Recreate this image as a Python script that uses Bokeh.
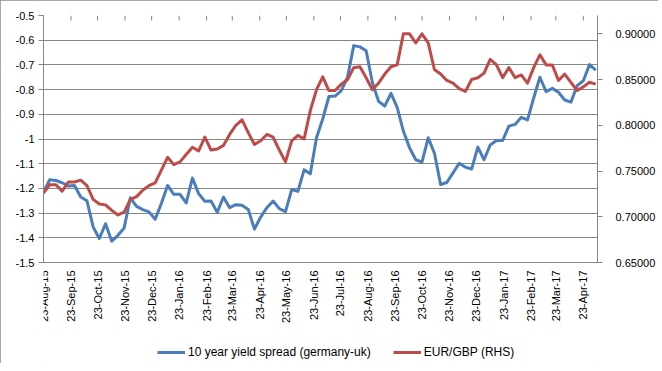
import math
import datetime as dt
from bokeh.plotting import figure
from bokeh.models import (Range1d, LinearAxis, FixedTicker,
                          NumeralTickFormatter, Legend, LegendItem)
from bokeh.core.properties import value
from bokeh.embed import file_html
from bokeh.resources import INLINE

# ---------------- data ----------------
start_date = "2015-08-23"   # weekly observations from this date

spread = [-1.215, -1.165, -1.168, -1.177, -1.190, -1.188, -1.235, -1.250, -1.356, -1.403,
          -1.343, -1.414, -1.390, -1.360, -1.238, -1.273, -1.286, -1.295, -1.325, -1.260,
          -1.188, -1.224, -1.224, -1.259, -1.158, -1.221, -1.252, -1.251, -1.297, -1.235,
          -1.278, -1.266, -1.268, -1.285, -1.365, -1.316, -1.278, -1.251, -1.282, -1.294,
          -1.205, -1.212, -1.125, -1.141, -0.995, -0.919, -0.828, -0.826, -0.804, -0.750,
          -0.622, -0.627, -0.643, -0.771, -0.847, -0.867, -0.815, -0.872, -0.968, -1.036,
          -1.084, -1.094, -0.995, -1.057, -1.184, -1.176, -1.137, -1.098, -1.114, -1.122,
          -1.033, -1.084, -1.024, -1.006, -1.006, -0.948, -0.941, -0.912, -0.923, -0.834,
          -0.750, -0.808, -0.795, -0.811, -0.842, -0.851, -0.784, -0.764, -0.699, -0.721]

eurgbp = [0.726, 0.735, 0.735, 0.728, 0.738, 0.738, 0.740, 0.734, 0.719, 0.714,
          0.713, 0.707, 0.702, 0.705, 0.719, 0.722, 0.729, 0.734, 0.737, 0.751,
          0.765, 0.757, 0.760, 0.768, 0.776, 0.772, 0.787, 0.773, 0.774, 0.778,
          0.790, 0.800, 0.806, 0.792, 0.779, 0.783, 0.790, 0.787, 0.773, 0.760,
          0.783, 0.789, 0.785, 0.816, 0.839, 0.853, 0.838, 0.838, 0.845, 0.850,
          0.863, 0.864, 0.852, 0.839, 0.846, 0.856, 0.864, 0.866, 0.900, 0.900,
          0.890, 0.900, 0.890, 0.861, 0.856, 0.849, 0.846, 0.840, 0.837, 0.850,
          0.852, 0.857, 0.872, 0.866, 0.852, 0.863, 0.852, 0.855, 0.846, 0.863,
          0.877, 0.866, 0.866, 0.849, 0.856, 0.847, 0.838, 0.842, 0.847, 0.845]

month_ticks = ["2015-08-23", "2015-09-23", "2015-10-23", "2015-11-23", "2015-12-23",
               "2016-01-23", "2016-02-23", "2016-03-23", "2016-04-23", "2016-05-23",
               "2016-06-23", "2016-07-23", "2016-08-23", "2016-09-23", "2016-10-23",
               "2016-11-23", "2016-12-23", "2017-01-23", "2017-02-23", "2017-03-23",
               "2017-04-23"]
left_ticks = [-1.5, -1.4, -1.3, -1.2, -1.1, -1.0, -0.9, -0.8, -0.7, -0.6, -0.5]
right_ticks = [0.65, 0.70, 0.75, 0.80, 0.85, 0.90]
left_lim = (-1.5, -0.5)
right_lim = (0.65, 0.92)

series_names = ["10 year yield spread (germany-uk)", "EUR/GBP (RHS)"]

# ---------------- build ----------------
t0 = dt.datetime.fromisoformat(start_date)
day_x = [7 * k for k in range(len(spread))]                      # days since start
tick_days = [(dt.datetime.fromisoformat(d) - t0).days for d in month_ticks]
tick_text = [dt.datetime.fromisoformat(d).strftime("%d-%b-%y") for d in month_ticks]

FONT = "Liberation Sans"
GRID = "#868686"
BLUE = "#4A7EBB"
RED = "#BE4B48"
TXT = "#000000"

# The frame extends below the data area so that the date labels and the legend
# (drawn inside it) are not clipped; the data area keeps 247 px for its value span.
DATA_H = 247.0
FRAME_H = 348
extra = (FRAME_H - DATA_H) / DATA_H
y_lo = left_lim[0] - extra * (left_lim[1] - left_lim[0])
r_lo = right_lim[0] - extra * (right_lim[1] - right_lim[0])

p = figure(frame_width=554, frame_height=FRAME_H,
           x_range=Range1d(day_x[0], day_x[-1] + 2),
           y_range=Range1d(y_lo, left_lim[1]),
           x_axis_location=None,
           output_backend="svg", toolbar_location=None,
           min_border_left=43, min_border_right=57, min_border_top=15, min_border_bottom=0)
p.outline_line_color = None
p.background_fill_color = "white"
p.border_fill_color = "white"
p.styles = {"outline": "1px solid #8c8c8c", "outline-offset": "-1px"}
p.extra_y_ranges = {"rhs": Range1d(r_lo, right_lim[1])}

p.xgrid.visible = False
p.ygrid.ticker = FixedTicker(ticks=left_ticks)
p.ygrid.grid_line_color = GRID
p.ygrid.grid_line_width = 1

# inward tick marks hanging from the top border (Excel axis crossing at top)
p.ray(x=tick_days, y=[left_lim[1]] * len(tick_days), length=5, angle=-math.pi / 2,
      length_units="screen", line_color=GRID, line_width=1)

l1 = p.line(day_x, spread, line_color=BLUE, line_width=3, line_join="round")
l2 = p.line(day_x, eurgbp, line_color=RED, line_width=3, line_join="round", y_range_name="rhs")

# date labels under the bottom gridline, rotated to read bottom-to-top
p.text(x=tick_days, y=[left_lim[0]] * len(tick_days), text=tick_text,
       angle=math.pi / 2, text_align="right", text_baseline="middle", y_offset=8,
       text_font=value(FONT), text_font_size="11px", text_color=TXT)

# left axis
ya = p.left[0]
ya.bounds = left_lim
ya.ticker = FixedTicker(ticks=left_ticks)
ya.formatter = NumeralTickFormatter(format="0.[0]")
ya.axis_line_color = GRID
ya.major_tick_line_color = GRID
ya.major_tick_out = 5
ya.major_tick_in = 0
ya.minor_tick_line_color = None
ya.major_label_standoff = 4
ya.major_label_text_font = FONT
ya.major_label_text_font_size = "11px"
ya.major_label_text_color = TXT

# right axis
ra = LinearAxis(y_range_name="rhs", ticker=FixedTicker(ticks=right_ticks),
                formatter=NumeralTickFormatter(format="0.00000"), bounds=right_lim)
ra.axis_line_color = GRID
ra.major_tick_line_color = GRID
ra.major_tick_out = 5
ra.major_tick_in = 0
ra.minor_tick_line_color = None
ra.major_label_standoff = 13
ra.major_label_text_font = FONT
ra.major_label_text_font_size = "11px"
ra.major_label_text_color = TXT
p.add_layout(ra, "right")

legend = Legend(items=[LegendItem(label=series_names[0], renderers=[l1]),
                       LegendItem(label=series_names[1], renderers=[l2])],
                orientation="horizontal", location=(114, 1))
legend.border_line_color = None
legend.background_fill_alpha = 0
legend.padding = 0
legend.margin = 0
legend.spacing = 22
legend.label_standoff = 3
legend.glyph_width = 28
legend.label_text_font = FONT
legend.label_text_font_size = "12px"
legend.label_text_color = TXT
p.add_layout(legend, "center")

open("out.html", "w").write(file_html(p, INLINE))
